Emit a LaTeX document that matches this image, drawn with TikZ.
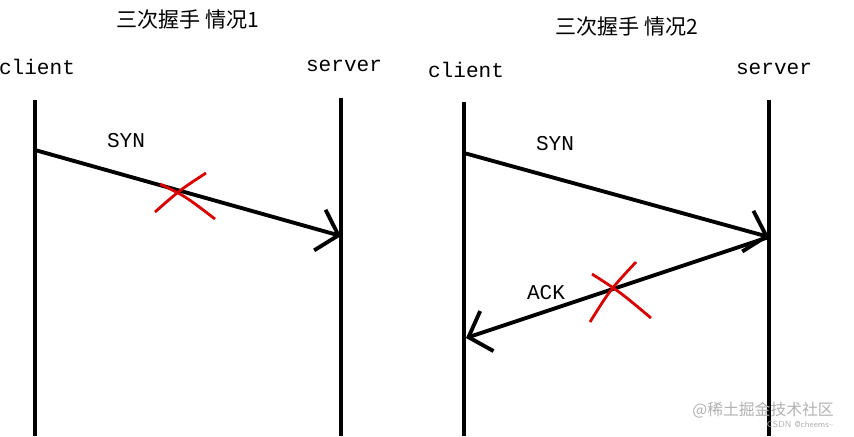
\documentclass[tikz,border=0pt]{standalone}
\usepackage{fontspec}
\setmonofont{Liberation Mono}
\newfontfamily\cjk{Noto Sans CJK SC}
\usetikzlibrary{arrows.meta}
\begin{document}
\begin{tikzpicture}[x=0.02cm,y=-0.02cm,
  life/.style={line width=2.2pt,black},
  msg/.style={line width=2.2pt,-{Straight Barb[length=11pt,width=24pt,line width=2.2pt]}},
  lbl/.style={font=\ttfamily\large},
  ttl/.style={font=\cjk\large},
  cross/.style={red!85!black,line width=1.6pt}]
\useasboundingbox (0,0) rectangle (854,436);
\fill[white] (0,0) rectangle (854,436);
% left
\node[ttl] (t1) at (188,20) {三次握手 情况1};
\node[lbl] (c1) at (37,67) {client};
\node[lbl] (s1) at (344,66) {server};
\coordinate (c1t) at (35,100); \coordinate (c1b) at (35,436);
\coordinate (s1t) at (341,98); \coordinate (s1b) at (341,436);
\draw[life] (c1t) -- (c1b);
\draw[life] (s1t) -- (s1b);
\coordinate (a1) at (35,150); \coordinate (b1) at (341,236);
\draw[msg] (a1) -- (b1);
\node[lbl] (syn1) at (126,141) {SYN};
\draw[cross] (160,184) .. controls (185,196) .. (215,219);
\draw[cross] (206,173) .. controls (180,190) .. (155,212);
% right
\node[ttl] (t2) at (627,27) {三次握手 情况2};
\node[lbl] (c2) at (466,70) {client};
\node[lbl] (s2) at (774,69) {server};
\coordinate (c2t) at (464,102); \coordinate (c2b) at (464,436);
\coordinate (s2t) at (769,100); \coordinate (s2b) at (769,436);
\draw[life] (c2t) -- (c2b);
\draw[life] (s2t) -- (s2b);
\coordinate (a2) at (464,153); \coordinate (b2) at (769,237);
\draw[msg] (a2) -- (b2);
\node[lbl] (syn2) at (555,144) {SYN};
\coordinate (d2) at (466,338);
\draw[msg] (b2) -- (d2);
\node[lbl] (ack) at (546,293) {ACK};
\draw[cross] (592,274) .. controls (620,292) .. (651,318);
\draw[cross] (636,262) .. controls (610,290) .. (590,322);
% watermark
\node[font=\cjk\small,text=gray!60,anchor=east] (wm) at (840,410) {@稀土掘金技术社区};
\node[font=\sffamily\tiny,text=gray!60,anchor=east] (wm2) at (840,424) {CSDN @cheems\textasciitilde};
\end{tikzpicture}
\end{document}
